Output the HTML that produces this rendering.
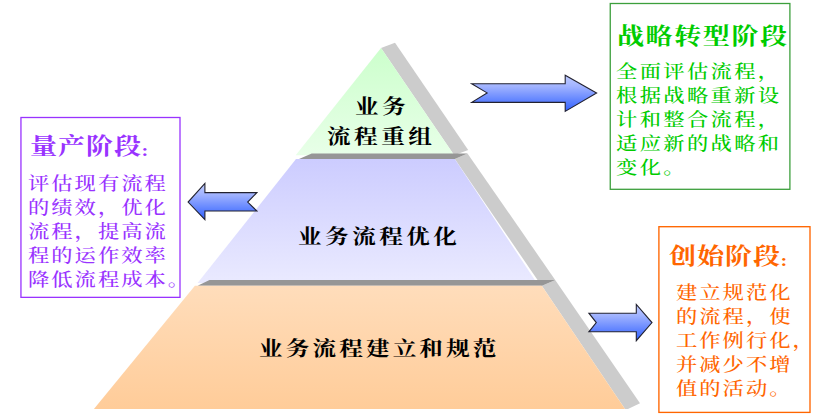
<!DOCTYPE html>
<html lang="zh-CN">
<head>
<meta charset="utf-8">
<title>业务流程金字塔</title>
<style>
  html, body { margin: 0; padding: 0; background: #ffffff; }
  body { width: 831px; height: 420px; position: relative; overflow: hidden;
         font-family: "Liberation Serif", "Noto Serif CJK SC", serif; }
  svg.art { position: absolute; left: 0; top: 0; }
  .t { position: absolute; white-space: nowrap; margin: 0; padding: 0; line-height: 24px; transform-origin: 0 0; }
  .lab { color: #000; font-weight: 700; font-size: 20.5px; letter-spacing: 3.04px; line-height: 30px; transform: scaleX(1.15); }
  .hd { font-weight: 700; font-size: 22.5px; letter-spacing: 0.83px; line-height: 30px; transform: scaleX(1.2); }
  .hd .c { font-family: "Liberation Serif", serif; font-size: 17px; letter-spacing: 0; margin-left: -0.5px; position: relative; top: 2px; }
  .bd { font-weight: 500; font-size: 18.5px; letter-spacing: 1.76px; line-height: 24px; transform: scaleX(1.15); }
  .purple { color: #9933ff; }
  .green { color: #00cc00; }
  .orange { color: #ff6600; }
</style>
</head>
<body>
<svg class="art" width="831" height="420" viewBox="0 0 831 420">
  <defs>
    <linearGradient id="gG" x1="0" y1="0" x2="0" y2="1">
      <stop offset="0" stop-color="#ccffcc"/><stop offset="1" stop-color="#e8ffe8"/>
    </linearGradient>
    <linearGradient id="gB" x1="0" y1="0" x2="0" y2="1">
      <stop offset="0" stop-color="#ccccff"/><stop offset="1" stop-color="#eaeaff"/>
    </linearGradient>
    <linearGradient id="gO" x1="0" y1="0" x2="0" y2="1">
      <stop offset="0" stop-color="#ffddbb"/><stop offset="1" stop-color="#ffcc99"/>
    </linearGradient>
    <linearGradient id="gA" x1="0" y1="0" x2="0" y2="1">
      <stop offset="0" stop-color="#c0ccff"/><stop offset="0.3" stop-color="#a2b4ff"/><stop offset="1" stop-color="#2f5fff"/>
    </linearGradient>
  </defs>

  <!-- tier 1 (green) -->
  <polygon points="381,48 395,42.8 468.2,150 454.2,155.3" fill="#cccccc"/>
  <polygon points="381,48 295.7,155.3 454.2,155.3" fill="url(#gG)"/>

  <!-- tier 2 (blue) -->
  <polygon points="454.8,159 467.5,153.4 555.2,280 541.5,285.8" fill="#cccccc"/>
  <polygon points="299,159 311.7,153.4 467.5,153.4 454.8,159" fill="#969696"/>
  <polygon points="296,159 454.8,159 536.8,283 197.6,283" fill="url(#gB)"/>

  <!-- tier 3 (orange) -->
  <polygon points="541.8,285.8 555.2,280 640,403.2 628,408.9 625,408.9" fill="#cccccc"/>
  <polygon points="197.6,285.8 209.5,280 555.2,280 541.8,285.8" fill="#969696"/>
  <polygon points="194.9,285.8 541.8,285.8 625,408.9 93.9,408.9" fill="url(#gO)"/>

  <!-- arrows -->
  <polygon points="471.7,83.8 565.2,83.8 565.2,75.3 596.6,92.9 565.2,111.4 565.2,102.4 471.7,102.4 487.1,92.9"
           fill="url(#gA)" stroke="#222230" stroke-width="1.1" stroke-linejoin="miter"/>
  <polygon points="256.9,192.6 204.9,192.6 204.9,183.5 188.1,202.1 204.9,219.7 204.9,211 256.9,211 247.7,202.1"
           fill="url(#gA)" stroke="#222230" stroke-width="1.1" stroke-linejoin="miter"/>
  <polygon points="588.9,313.2 636.3,313.2 636.3,304.5 652,322.6 636.3,340.7 636.3,331.8 588.9,331.8 596.3,322.6"
           fill="url(#gA)" stroke="#222230" stroke-width="1.1" stroke-linejoin="miter"/>
  <!-- callout boxes -->
  <rect x="20.95" y="117.5" width="159.05" height="179.85" fill="none" stroke="#9933ff" stroke-width="1.3"/>
  <rect x="610.25" y="3.5" width="179.65" height="185.8" fill="none" stroke="#3c9f3c" stroke-width="1.3"/>
  <rect x="658.9" y="226.7" width="151.1" height="185.7" fill="none" stroke="#ff6600" stroke-width="1.35"/>
</svg>


<!-- pyramid labels -->
<div class="t lab" style="left:354.5px; top:91.5px;">业务</div>
<div class="t lab" style="left:326.8px; top:122px;">流程重组</div>
<div class="t lab" style="left:298.3px; top:221.5px;">业务流程优化</div>
<div class="t lab" style="left:259px; top:333.5px; letter-spacing:2.74px;">业务流程建立和规范</div>

<!-- purple box text -->
<div class="t hd purple" style="left:29.7px; top:131.5px;">量产阶段<span class="c">:</span></div>
<div class="t bd purple" style="left:28px; top:171.5px;">评估现有流程<br>的绩效，优化<br>流程，提高流<br>程的运作效率<br>降低流程成本。</div>

<!-- green box text -->
<div class="t hd green" style="left:617.3px; top:21.5px; letter-spacing:1.33px;">战略转型阶段</div>
<div class="t bd green" style="left:616px; top:60px; letter-spacing:2.05px;">全面评估流程，<br>根据战略重新设<br>计和整合流程，<br>适应新的战略和<br>变化。</div>

<!-- orange box text -->
<div class="t hd orange" style="left:668.5px; top:241.5px;">创始阶段<span class="c">:</span></div>
<div class="t bd orange" style="left:676px; top:281px;">建立规范化<br>的流程，使<br>工作例行化，<br>并减少不增<br>值的活动。</div>
</body>
</html>
